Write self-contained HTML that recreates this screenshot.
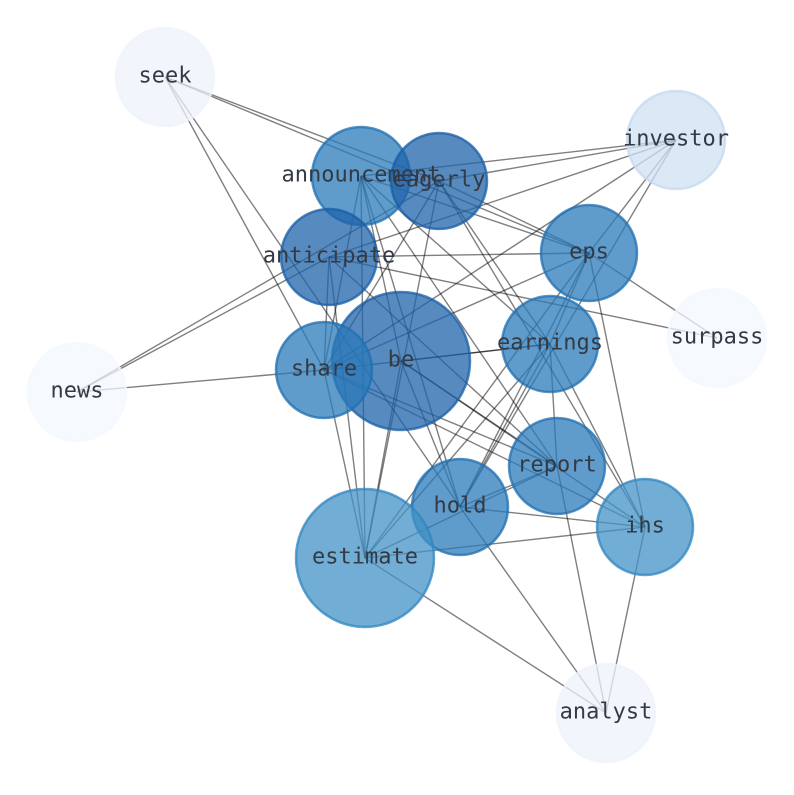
<!DOCTYPE html>
<html><head><meta charset="utf-8"><style>body{margin:0;background:#fff}</style></head><body>
<svg width="794" height="790" xmlns="http://www.w3.org/2000/svg">
<g stroke="#000" stroke-opacity="0.5" stroke-width="1.4">
<line x1="165" y1="77" x2="439" y2="181"/><line x1="165" y1="77" x2="589" y2="253"/>
<line x1="165" y1="77" x2="324" y2="370"/><line x1="165" y1="77" x2="460" y2="507"/>
<line x1="676" y1="140" x2="361" y2="176"/><line x1="676" y1="140" x2="439" y2="181"/>
<line x1="676" y1="140" x2="329" y2="257"/><line x1="676" y1="140" x2="324" y2="370"/>
<line x1="676" y1="140" x2="460" y2="507"/><line x1="676" y1="140" x2="589" y2="253"/>
<line x1="361" y1="176" x2="324" y2="370"/><line x1="361" y1="176" x2="365" y2="558"/>
<line x1="361" y1="176" x2="401" y2="361"/><line x1="361" y1="176" x2="460" y2="507"/>
<line x1="361" y1="176" x2="557" y2="466"/><line x1="361" y1="176" x2="550" y2="344"/>
<line x1="361" y1="176" x2="589" y2="253"/>
<line x1="439" y1="181" x2="324" y2="370"/><line x1="439" y1="181" x2="365" y2="558"/>
<line x1="439" y1="181" x2="550" y2="344"/><line x1="439" y1="181" x2="589" y2="253"/>
<line x1="439" y1="181" x2="77" y2="392"/><line x1="439" y1="181" x2="645" y2="527"/>
<line x1="329" y1="257" x2="589" y2="253"/><line x1="329" y1="257" x2="717" y2="338"/>
<line x1="329" y1="257" x2="77" y2="392"/><line x1="329" y1="257" x2="324" y2="370"/>
<line x1="329" y1="257" x2="365" y2="558"/><line x1="329" y1="257" x2="557" y2="466"/>
<line x1="589" y1="253" x2="324" y2="370"/><line x1="589" y1="253" x2="460" y2="507"/>
<line x1="589" y1="253" x2="550" y2="344"/><line x1="589" y1="253" x2="365" y2="558"/>
<line x1="589" y1="253" x2="645" y2="527"/><line x1="589" y1="253" x2="717" y2="338"/>
<line x1="77" y1="392" x2="324" y2="370"/>
<line x1="401" y1="361" x2="550" y2="344"/><line x1="401" y1="361" x2="557" y2="466"/>
<line x1="401" y1="361" x2="645" y2="527"/><line x1="401" y1="361" x2="460" y2="507"/>
<line x1="401" y1="361" x2="365" y2="558"/>
<line x1="324" y1="370" x2="557" y2="466"/><line x1="324" y1="370" x2="645" y2="527"/>
<line x1="324" y1="370" x2="365" y2="558"/><line x1="324" y1="370" x2="550" y2="344"/>
<line x1="550" y1="344" x2="460" y2="507"/><line x1="550" y1="344" x2="365" y2="558"/>
<line x1="550" y1="344" x2="557" y2="466"/><line x1="550" y1="344" x2="645" y2="527"/>
<line x1="557" y1="466" x2="460" y2="507"/><line x1="557" y1="466" x2="365" y2="558"/>
<line x1="557" y1="466" x2="606" y2="713"/>
<line x1="460" y1="507" x2="645" y2="527"/><line x1="460" y1="507" x2="606" y2="713"/>
<line x1="365" y1="558" x2="645" y2="527"/><line x1="365" y1="558" x2="606" y2="713"/>
<line x1="645" y1="527" x2="606" y2="713"/>
</g>
<g stroke-width="2.5" fill-opacity="0.75" stroke-opacity="0.75">
<circle cx="165" cy="77" r="49" fill="#eef3fb" stroke="#eef3fb"/>
<circle cx="676" cy="140" r="49" fill="#cfe0f2" stroke="#c4d9ef"/>
<circle cx="361" cy="176" r="49" fill="#2a7ab9" stroke="#1f6fb0"/>
<circle cx="439" cy="181" r="48" fill="#1f63aa" stroke="#185da6"/>
<circle cx="329" cy="257" r="48" fill="#1f63aa" stroke="#185da6"/>
<circle cx="589" cy="253" r="48" fill="#2a7ab9" stroke="#1f6fb0"/>
<circle cx="717" cy="338" r="49" fill="#f3f8fd" stroke="#f3f8fd"/>
<circle cx="77" cy="392" r="49" fill="#f3f8fd" stroke="#f3f8fd"/>
<circle cx="401" cy="361" r="69" fill="#1f63aa" stroke="#185da6"/>
<circle cx="324" cy="370" r="48" fill="#2a7ab9" stroke="#1f6fb0"/>
<circle cx="550" cy="344" r="48" fill="#2a7ab9" stroke="#1f6fb0"/>
<circle cx="557" cy="466" r="48" fill="#2a7ab9" stroke="#1f6fb0"/>
<circle cx="460" cy="507" r="48" fill="#2a7ab9" stroke="#1f6fb0"/>
<circle cx="645" cy="527" r="48" fill="#4292c6" stroke="#2f85c0"/>
<circle cx="365" cy="558" r="69" fill="#4292c6" stroke="#2f85c0"/>
<circle cx="606" cy="713" r="49" fill="#eef3fb" stroke="#eef3fb"/>
</g>
<g font-family="'DejaVu Sans Mono','Liberation Mono',monospace" font-size="22" fill="#333a44" text-anchor="middle" dominant-baseline="central">
<text x="165" y="76">seek</text><text x="676" y="139">investor</text>
<text x="361" y="175">announcement</text><text x="439" y="180">eagerly</text>
<text x="329" y="256">anticipate</text><text x="589" y="252">eps</text>
<text x="717" y="337">surpass</text><text x="77" y="391">news</text>
<text x="401" y="360">be</text><text x="324" y="369">share</text>
<text x="550" y="343">earnings</text><text x="557" y="465">report</text>
<text x="460" y="506">hold</text><text x="645" y="526">ihs</text>
<text x="365" y="557">estimate</text><text x="606" y="712">analyst</text>
</g>
</svg>
</body></html>
